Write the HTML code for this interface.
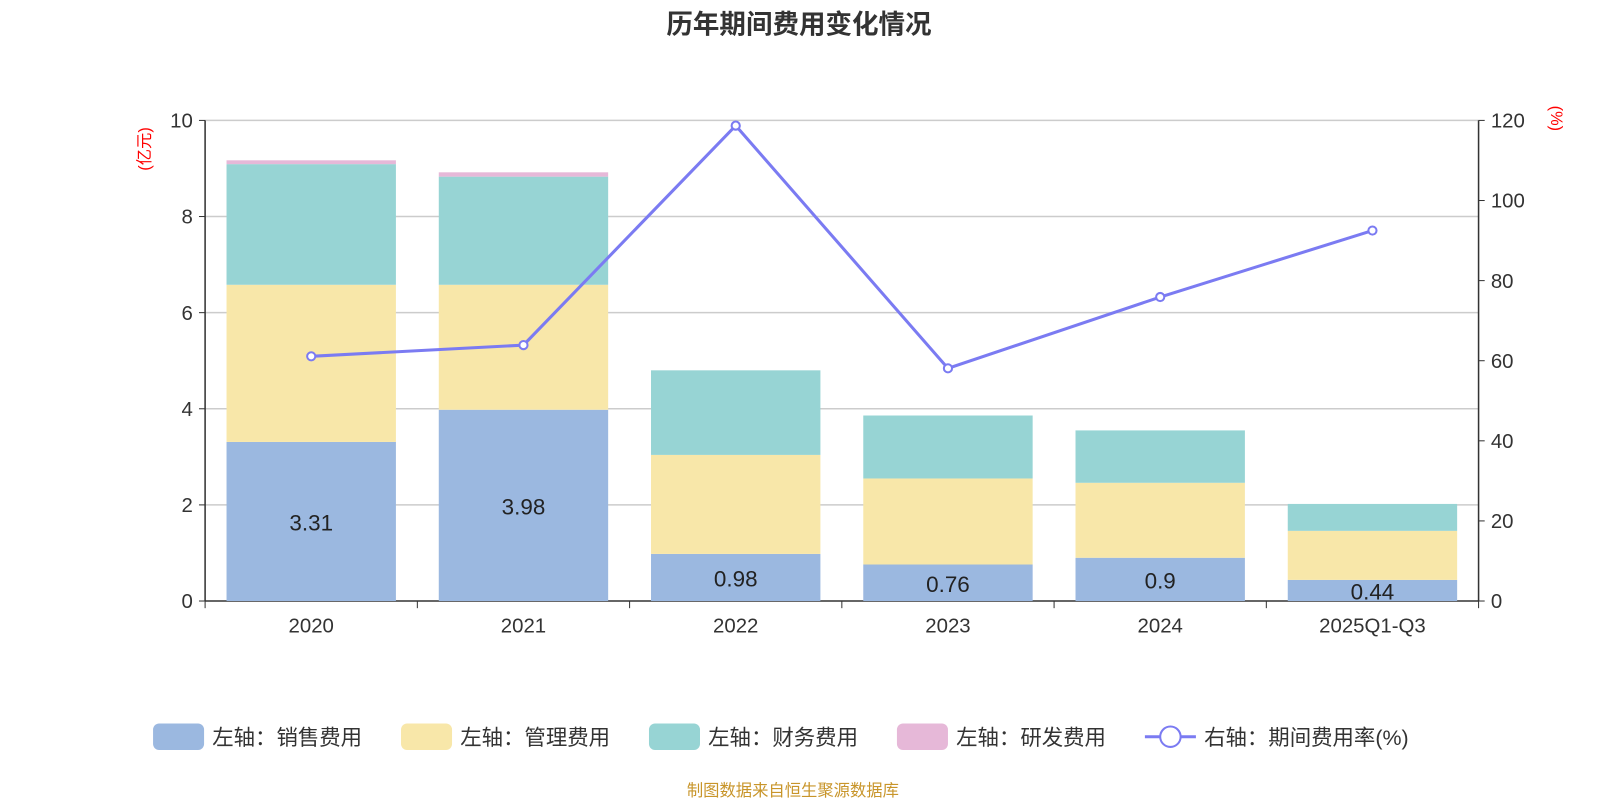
<!DOCTYPE html>
<html><head><meta charset="utf-8"><style>
body{margin:0;background:#fff;}
svg{display:block;}
svg text{font-family:"Liberation Sans","Noto Sans CJK SC",sans-serif;}
</style></head><body>
<svg id="c" width="1600" height="800" viewBox="0 0 1568 784" xmlns="http://www.w3.org/2000/svg">
<text x="783" y="33" text-anchor="middle" font-size="26" font-weight="bold" fill="#333">历年期间费用变化情况</text>
<text transform="translate(147,146) rotate(-90)" text-anchor="middle" font-size="16" fill="#f00">(亿元)</text>
<text transform="translate(1520,116) rotate(90)" text-anchor="middle" font-size="16" fill="#f00">(%)</text>
<g id="grid"></g><g id="bars"></g><g id="axes"></g><g id="line"></g>
<g id="legend" font-size="21" fill="#333">
<rect x="150" y="709" width="50" height="26" rx="6" fill="#9bb8e0"/>
<text x="208" y="730">左轴：销售费用</text>
<rect x="393" y="709" width="50" height="26" rx="6" fill="#f8e7a9"/>
<text x="451" y="730">左轴：管理费用</text>
<rect x="636" y="709" width="50" height="26" rx="6" fill="#97d4d4"/>
<text x="694" y="730">左轴：财务费用</text>
<rect x="879" y="709" width="50" height="26" rx="6" fill="#e6b8d8"/>
<text x="937" y="730">左轴：研发费用</text>
<line x1="1122" y1="722" x2="1172" y2="722" stroke="#7b7bf2" stroke-width="3"/>
<circle cx="1147" cy="722" r="10" fill="#fff" stroke="#7b7bf2" stroke-width="2"/>
<text x="1180" y="730">右轴：期间费用率(%)</text>
</g>
<text x="777" y="780" text-anchor="middle" font-size="16" fill="#c8952a">制图数据来自恒生聚源数据库</text>
</svg>
<script>
const categories=["2020","2021","2022","2023","2024","2025Q1-Q3"];
const sales=[3.31,3.98,0.98,0.76,0.9,0.44];
const admin=[3.27,2.60,2.06,1.79,1.56,1.02];
const finance=[2.51,2.25,1.76,1.31,1.09,0.56];
const rd=[0.08,0.09,0,0,0,0];
const rate=[61.1,63.9,118.7,58.1,75.9,92.5];
const leftTicks=[0,2,4,6,8,10];
const rightTicks=[0,20,40,60,80,100,120];
const NS="http://www.w3.org/2000/svg";
const X0=201,X1=1449,Y0=589,Y1=118;
const band=(X1-X0)/categories.length;
const yL=v=>Y0-(v/10)*(Y0-Y1);
const yR=v=>Y0-(v/120)*(Y0-Y1);
const xC=i=>X0+band*(i+0.5);
function mk(tag,attrs,parent){const e=document.createElementNS(NS,tag);for(const k in attrs)e.setAttribute(k,attrs[k]);document.getElementById(parent).appendChild(e);return e;}
leftTicks.forEach(t=>{
  const g=mk('line',{x1:X0,x2:X1,y1:yL(t),y2:yL(t),stroke:t===0?'#333':'#ccc','stroke-width':1.5},'grid');
  
  
  const tk=mk('line',{x1:X0-6,x2:X0,y1:yL(t),y2:yL(t),stroke:'#333'},'axes');
  
  
  const tx=mk('text',{x:X0-12,y:yL(t)+7,'text-anchor':'end','font-size':20,fill:'#333'},'axes');
  tx.textContent=t;
  
  
});
rightTicks.forEach(t=>{
  const tk=mk('line',{x1:X1,x2:X1+6,y1:yR(t),y2:yR(t),stroke:'#333'},'axes');
  
  
  const tx=mk('text',{x:X1+12,y:yR(t)+7,'font-size':20,fill:'#333'},'axes');
  tx.textContent=t;
  
  
});
[[X0,Y1,X0,Y0],[X1,Y1,X1,Y0]].forEach(a=>{
  const l=mk('line',{x1:a[0],y1:a[1],x2:a[2],y2:a[3],stroke:'#333','stroke-width':1.5},'axes');
  
  
});
for(let i=0;i<=categories.length;i++){
  const l=mk('line',{x1:X0+band*i,x2:X0+band*i,y1:Y0,y2:Y0+7,stroke:'#333'},'axes');
  
  
}
const series=[[sales,'#9bb8e0','bar-sales'],[admin,'#f8e7a9','bar-admin'],[finance,'#97d4d4','bar-finance'],[rd,'#e6b8d8','bar-rd']];
const bw=166;
categories.forEach((c,i)=>{
  let base=0;
  series.forEach(s=>{
    const v=s[0][i];
    if(v>0){
      const r=mk('rect',{x:xC(i)-bw/2,y:yL(base+v),width:bw,height:yL(base)-yL(base+v),fill:s[1]},'bars');
      
      
    }
    base+=v;
  });
  const lb=mk('text',{x:xC(i),y:(yL(0)+yL(sales[i]))/2+9,'text-anchor':'middle','font-size':22,fill:'#222'},'bars');
  lb.textContent=sales[i];
  
  
  const xl=mk('text',{x:xC(i),y:Y0+31,'text-anchor':'middle','font-size':20,fill:'#333'},'axes');
  xl.textContent=c;
  
  
});
const pl=mk('polyline',{points:rate.map((v,i)=>xC(i)+','+yR(v)).join(' '),fill:'none',stroke:'#7b7bf2','stroke-width':3},'line');


rate.forEach((v,i)=>{
  const p=mk('circle',{cx:xC(i),cy:yR(v),r:4,fill:'#fff',stroke:'#7b7bf2','stroke-width':2},'line');
  
  
});
</script>
</body></html>
